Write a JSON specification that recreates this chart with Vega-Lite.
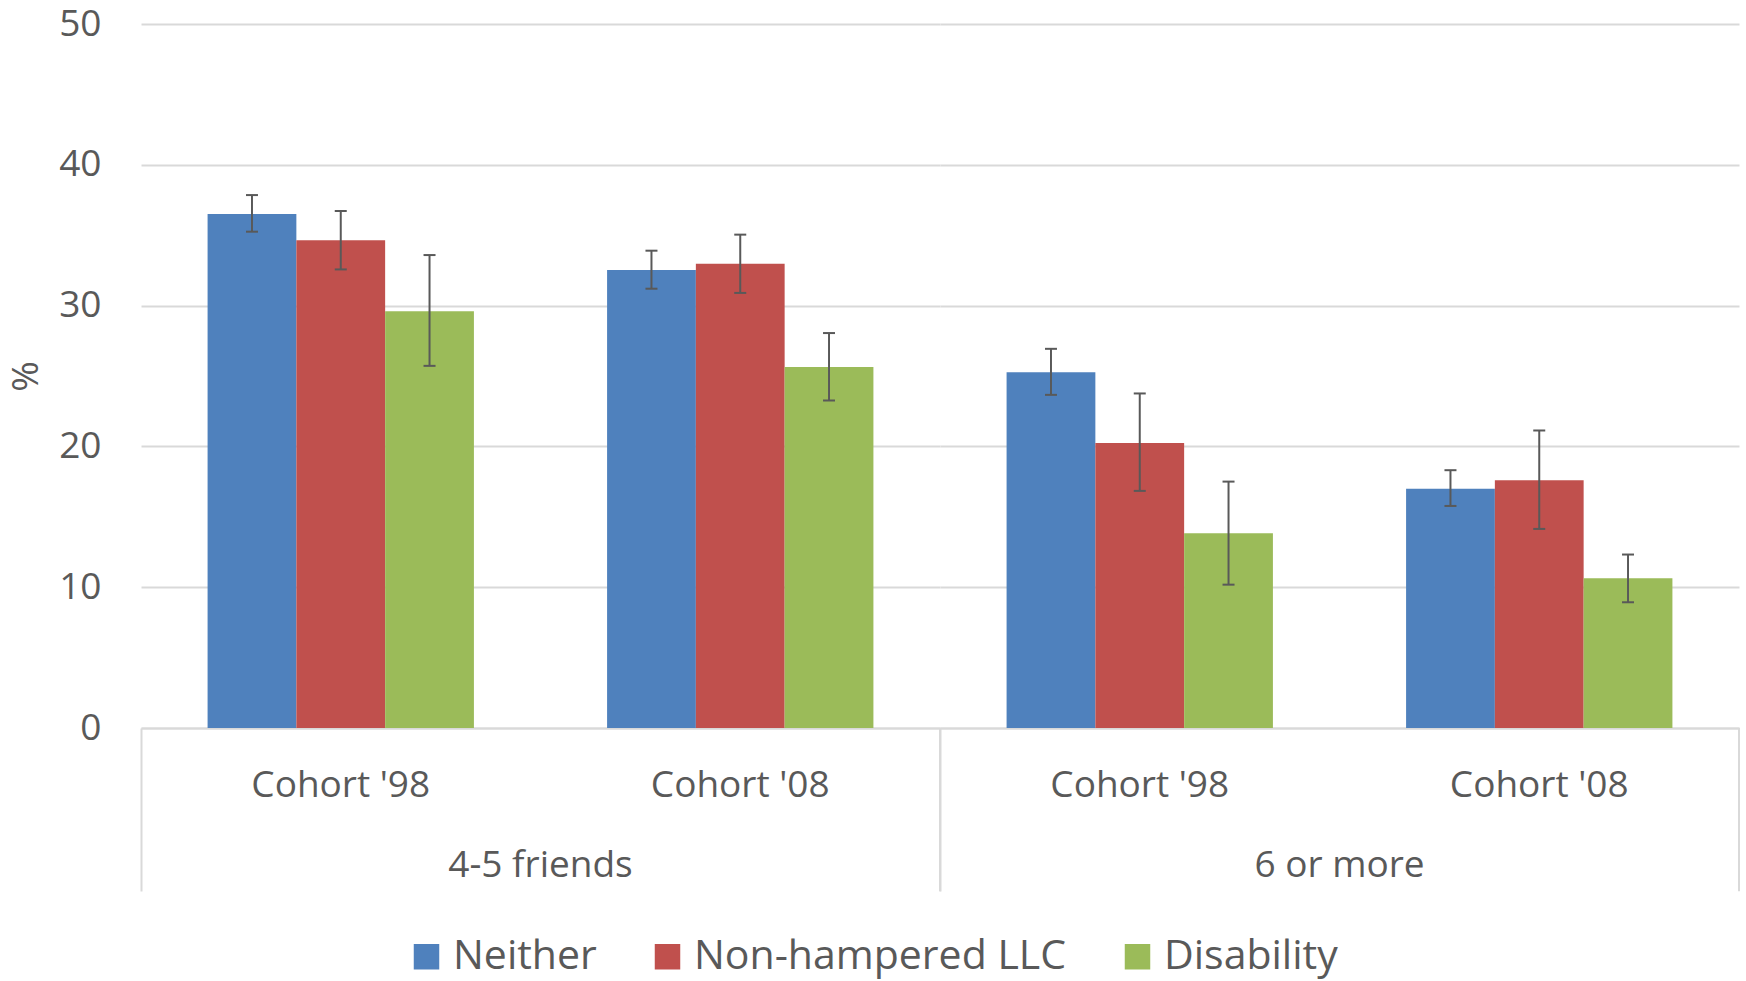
{
  "$schema": "https://vega.github.io/schema/vega-lite/v6.json",
  "background": "white",
  "padding": {"left": 7, "top": 5, "right": 5, "bottom": 5},
  "bounds": "flush",
  "data": {
    "values": [
      {"group": "4-5 friends", "cohort": "Cohort '98", "category": "Neither", "value": 36.5, "lo": 35.25, "hi": 37.85},
      {"group": "4-5 friends", "cohort": "Cohort '98", "category": "Non-hampered LLC", "value": 34.65, "lo": 32.57, "hi": 36.72},
      {"group": "4-5 friends", "cohort": "Cohort '98", "category": "Disability", "value": 29.6, "lo": 25.72, "hi": 33.59},
      {"group": "4-5 friends", "cohort": "Cohort '08", "category": "Neither", "value": 32.52, "lo": 31.2, "hi": 33.9},
      {"group": "4-5 friends", "cohort": "Cohort '08", "category": "Non-hampered LLC", "value": 32.98, "lo": 30.9, "hi": 35.04},
      {"group": "4-5 friends", "cohort": "Cohort '08", "category": "Disability", "value": 25.64, "lo": 23.26, "hi": 28.05},
      {"group": "6 or more", "cohort": "Cohort '98", "category": "Neither", "value": 25.27, "lo": 23.66, "hi": 26.93},
      {"group": "6 or more", "cohort": "Cohort '98", "category": "Non-hampered LLC", "value": 20.25, "lo": 16.84, "hi": 23.76},
      {"group": "6 or more", "cohort": "Cohort '98", "category": "Disability", "value": 13.83, "lo": 10.18, "hi": 17.5},
      {"group": "6 or more", "cohort": "Cohort '08", "category": "Neither", "value": 17.0, "lo": 15.77, "hi": 18.31},
      {"group": "6 or more", "cohort": "Cohort '08", "category": "Non-hampered LLC", "value": 17.6, "lo": 14.14, "hi": 21.13},
      {"group": "6 or more", "cohort": "Cohort '08", "category": "Disability", "value": 10.63, "lo": 8.93, "hi": 12.32}
    ]
  },
  "facet": {
    "column": {
      "field": "group",
      "type": "nominal",
      "sort": ["4-5 friends", "6 or more"],
      "header": {
        "title": null,
        "labelOrient": "bottom",
        "labelFontSize": 37,
        "labelFont": "Open Sans",
        "labelColor": "#595959",
        "labelPadding": -44
      }
    }
  },
  "spacing": 0,
  "spec": {
    "width": 799,
    "height": 704,
    "layer": [
      {
        "mark": {"type": "bar"},
        "encoding": {
          "x": {
            "field": "cohort",
            "type": "nominal",
            "sort": ["Cohort '98", "Cohort '08"],
            "scale": {"paddingInner": 0, "paddingOuter": 0},
            "axis": {
              "title": null,
              "labelAngle": 0,
              "labelFontSize": 37,
              "labelFont": "Open Sans",
              "labelColor": "#595959",
              "domainColor": "#d9d9d9",
              "domainWidth": 2,
              "tickColor": "#d9d9d9",
              "tickWidth": 2,
              "tickSize": 163,
              "bandPosition": 0,
              "tickOpacity": {"condition": {"test": "datum.value === \"Cohort '98\"", "value": 1}, "value": 0},
              "labelPadding": -124
            }
          },
          "xOffset": {
            "field": "category",
            "type": "nominal",
            "sort": ["Neither", "Non-hampered LLC", "Disability"],
            "scale": {"paddingInner": 0, "paddingOuter": 0.75}
          },
          "y": {
            "field": "value",
            "type": "quantitative",
            "scale": {"domain": [0, 50]},
            "axis": {
              "values": [0, 10, 20, 30, 40, 50],
              "title": "%",
              "titleFont": "Open Sans",
              "titleFontSize": 37,
              "titleFontWeight": "normal",
              "titleColor": "#595959",
              "titlePadding": 13,
              "labelFont": "Open Sans",
              "labelFontSize": 37,
              "labelColor": "#595959",
              "labelPadding": 40,
              "ticks": false,
              "tickSize": 0,
              "domain": false,
              "grid": true,
              "gridColor": "#d9d9d9",
              "gridWidth": 2
            }
          },
          "color": {
            "field": "category",
            "type": "nominal",
            "sort": ["Neither", "Non-hampered LLC", "Disability"],
            "scale": {"domain": ["Neither", "Non-hampered LLC", "Disability"], "range": ["#4f81bd", "#c0504d", "#9bbb59"]},
            "legend": {
              "title": null,
              "orient": "none",
              "legendX": 265,
              "legendY": 912,
              "direction": "horizontal",
              "symbolType": "square",
              "symbolSize": 650,
              "symbolStrokeWidth": 0,
              "symbolOpacity": 1,
              "labelFont": "Open Sans",
              "labelFontSize": 41,
              "labelColor": "#595959",
              "labelLimit": 0,
              "labelOffset": 6,
              "columnPadding": 50
            }
          }
        }
      },
      {
        "mark": {"type": "rule", "color": "#595959", "strokeWidth": 2},
        "encoding": {
          "x": {"field": "cohort", "type": "nominal", "sort": ["Cohort '98", "Cohort '08"]},
          "xOffset": {"field": "category", "type": "nominal", "sort": ["Neither", "Non-hampered LLC", "Disability"]},
          "y": {"field": "lo", "type": "quantitative"},
          "y2": {"field": "hi"}
        }
      },
      {
        "mark": {"type": "tick", "orient": "horizontal", "color": "#595959", "size": 12, "thickness": 2, "opacity": 1},
        "encoding": {
          "x": {"field": "cohort", "type": "nominal", "sort": ["Cohort '98", "Cohort '08"]},
          "xOffset": {"field": "category", "type": "nominal", "sort": ["Neither", "Non-hampered LLC", "Disability"]},
          "y": {"field": "lo", "type": "quantitative"}
        }
      },
      {
        "mark": {"type": "tick", "orient": "horizontal", "color": "#595959", "size": 12, "thickness": 2, "opacity": 1},
        "encoding": {
          "x": {"field": "cohort", "type": "nominal", "sort": ["Cohort '98", "Cohort '08"]},
          "xOffset": {"field": "category", "type": "nominal", "sort": ["Neither", "Non-hampered LLC", "Disability"]},
          "y": {"field": "hi", "type": "quantitative"}
        }
      },
      {
        "transform": [{"filter": "datum.category === 'Neither' && datum.cohort === \"Cohort '08\""}],
        "mark": {"type": "rule", "color": "#d9d9d9", "strokeWidth": 2},
        "encoding": {
          "x": {"field": "cohort", "type": "nominal", "sort": ["Cohort '98", "Cohort '08"], "bandPosition": 1},
          "y": {"datum": 0, "type": "quantitative"},
          "y2": {"datum": -11.6}
        }
      }
    ]
  },
  "config": {
    "view": {"stroke": null},
    "font": "Open Sans"
  }
}
